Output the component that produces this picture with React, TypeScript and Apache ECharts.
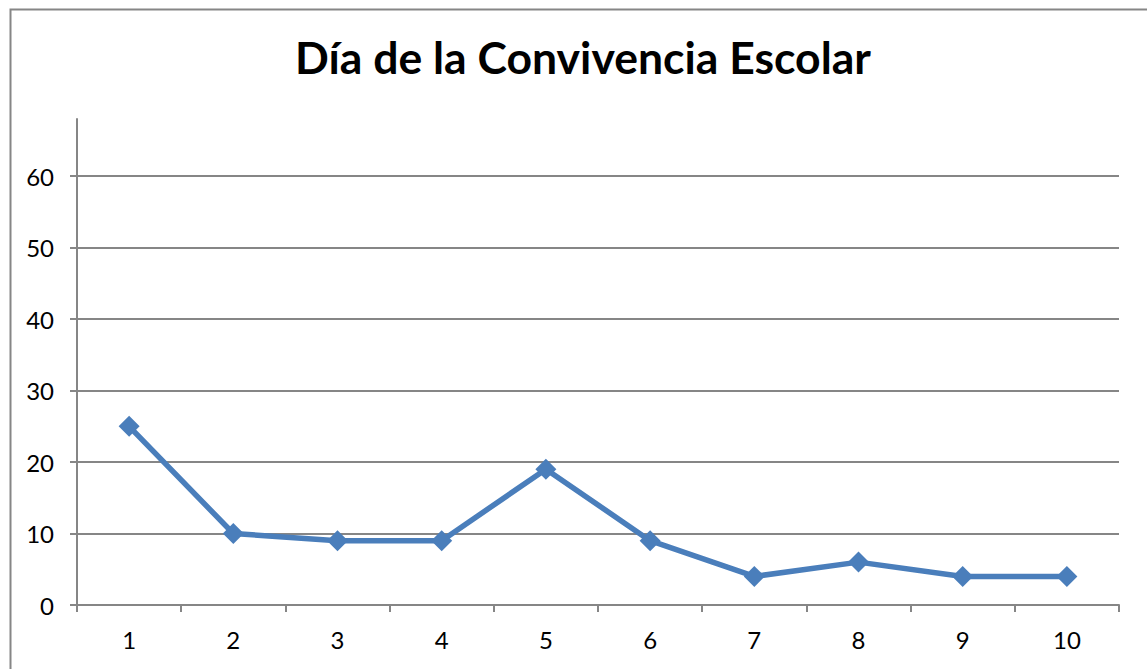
import React, { useEffect, useRef } from "react";
import * as echarts from "echarts";

const categories = ["1", "2", "3", "4", "5", "6", "7", "8", "9", "10"];
const values = [25, 10, 9, 9, 19, 9, 4, 6, 4, 4];
const titleText = "Día de la Convivencia Escolar";

export default function App() {
  const ref = useRef<HTMLDivElement>(null);
  useEffect(() => {
    const chart = echarts.init(ref.current!, null, { renderer: "svg" });
    chart.setOption({
      animation: false,
      title: {
        text: titleText,
        left: 290,
        top: 29,
        textStyle: {
          fontFamily: "Lato",
          fontWeight: "bold",
          fontSize: 44.5,
          color: "#000000",
        },
      },
      graphic: [
        {
          type: "rect",
          left: 8,
          top: 7,
          shape: { width: 1160, height: 700 },
          style: { fill: "none", stroke: "#868686", lineWidth: 2 },
          silent: true,
        },
      ],
      grid: { left: 77, right: 28, top: 119, bottom: 64, containLabel: false },
      xAxis: {
        type: "category",
        data: categories,
        boundaryGap: true,
        axisLine: { lineStyle: { color: "#868686", width: 2 } },
        axisTick: { show: true, length: 7, lineStyle: { color: "#868686", width: 2 } },
        axisLabel: { color: "#000", fontFamily: "Lato", fontSize: 24, margin: 22 },
        splitLine: { show: false },
      },
      yAxis: {
        type: "value",
        min: 0,
        max: 68,
        interval: 10,
        axisLine: { show: true, lineStyle: { color: "#868686", width: 2 } },
        axisTick: { show: true, length: 7, lineStyle: { color: "#868686", width: 2 } },
        axisLabel: { color: "#000", fontFamily: "Lato", fontSize: 24, margin: 23, showMaxLabel: false },
        splitLine: { show: true, showMaxLine: false, lineStyle: { color: "#868686", width: 2 } },
      },
      series: [
        {
          type: "line",
          data: values,
          symbol: "diamond",
          symbolSize: 21,
          lineStyle: { color: "#4a7ebb", width: 5.5 },
          itemStyle: { color: "#4a7ebb" },
        },
      ],
    });
    return () => chart.dispose();
  }, []);
  return (
    <div
      ref={ref}
      style={{
        position: "fixed",
        left: 0,
        top: 0,
        width: 1147,
        height: 669,
        background: "#fff",
      }}
    />
  );
}
